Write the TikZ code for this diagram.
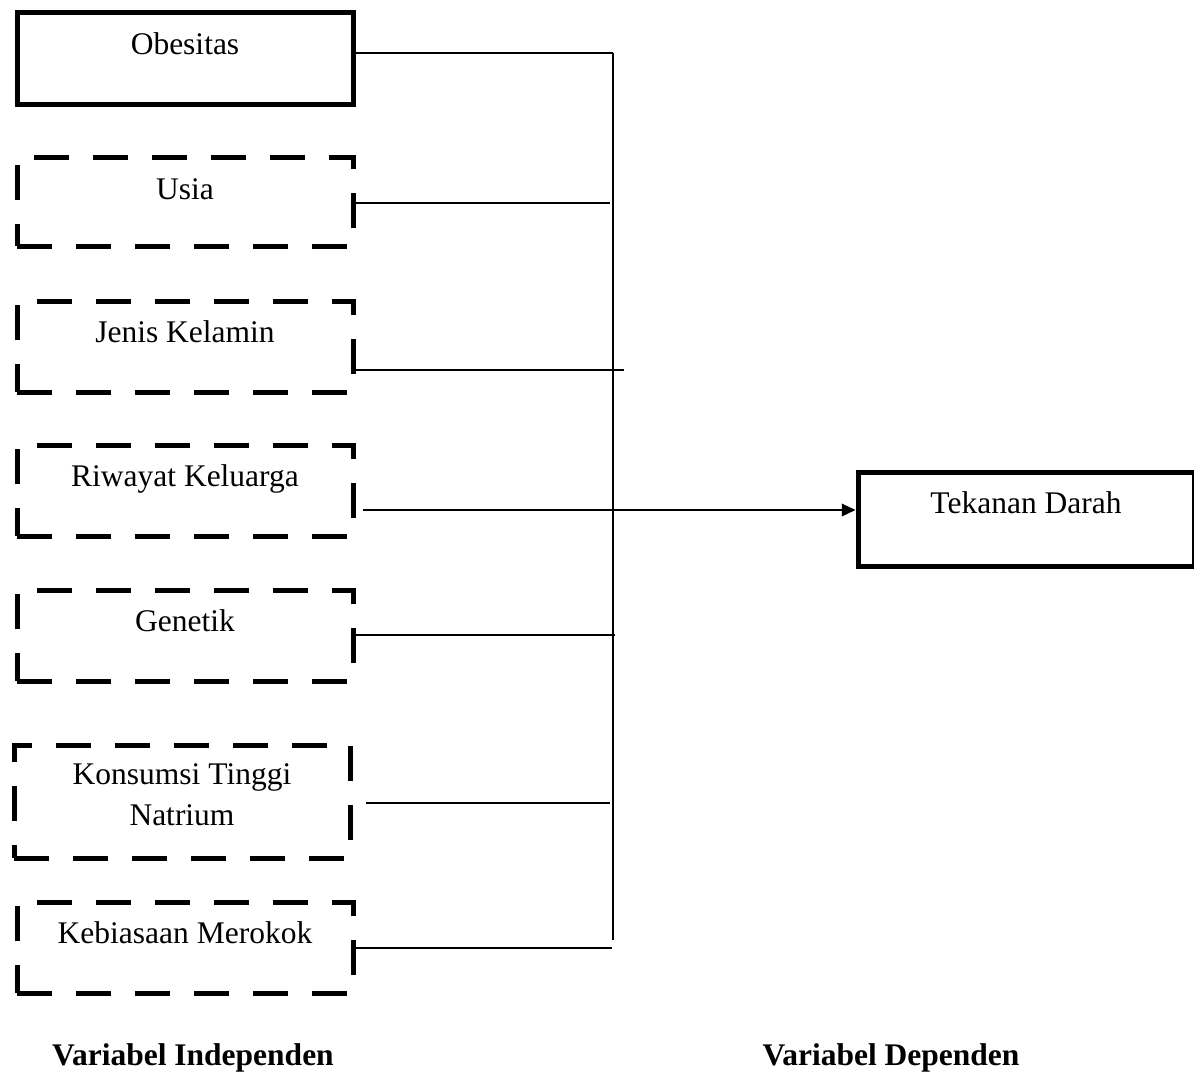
\documentclass[tikz,border=0pt]{standalone}
\usepackage{fontspec}
\setmainfont{Liberation Serif}
\usepackage{tikz}
\usetikzlibrary{positioning}
\usetikzlibrary{arrows.meta}
\tikzset{
    kerangka/.style={
            x=0.4pt,y=-0.4pt,
            font=\fontsize{12.6}{16.4}\selectfont,
            var/.style={draw,line width=2pt,minimum width=134.4pt,inner xsep=0pt,inner ysep=0pt,
                    text height=16.6pt,text depth=19.8pt,anchor=north west},
            confound/.style={var,dash pattern=on 14pt off 9.6pt},
            link/.style={line width=0.8pt},
            arrow/.style={line width=0.8pt,-{Triangle[length=5.5pt,width=5pt]}},
            judul/.style={font=\fontsize{12.6}{16.4}\selectfont\bfseries,anchor=base}
        }
    }

\begin{document}
\begin{tikzpicture}[kerangka]
    \useasboundingbox (0,0) rectangle (1194,1072);
    % variabel independen
    \node[var, text depth=20.2pt] (obes) at (14.5,10.5) {Obesitas};
    \node[confound, text depth=18.6pt] (usia) at (14.5,155.5) {Usia};
    \node[confound] (jenis) at (14.5,298.5) {Jenis Kelamin};
    \node[confound] (riwayat) at (14.5,442.5) {Riwayat Keluarga};
    \node[confound] (genetik) at (14.5,587.5) {Genetik};
    \node[confound, align=center, text height=32.2pt, text depth=13pt] (natrium) at (11.5,742.5) {Konsumsi Tinggi\\Natrium};
    \node[confound] (merokok) at (14.5,899.5) {Kebiasaan Merokok};
    % variabel dependen
    \node[var, text depth=21pt] (tekanan) at (855.5,469.5) {Tekanan Darah};

    \coordinate (bus-top) at (613,53);
    \coordinate (bus-bot) at (613,940);
    \coordinate (arus) at (613,510);
    \draw[link] (bus-top) -- (bus-bot);
    \draw[link] (obes.east |- bus-top) -- (bus-top);
    \foreach \v/\y/\xs/\xe in {usia/203/0/610, jenis/370/0/624, genetik/635/0/615, natrium/803/5.2/610, merokok/948/0/612} {
        \coordinate (\v-end) at (\xe,\y);
        \draw[link] ([xshift=\xs pt]\v.east |- \v-end) -- (\v-end);
    }
    \draw[arrow] ([xshift=2.8pt]riwayat.east |- arus) -- (arus -| tekanan.west);

    \node[judul] (lbl-indep) at (193,1065) {Variabel Independen};
    \node[judul] (lbl-dep) at (891,1065) {Variabel Dependen};
\end{tikzpicture}
\end{document}
